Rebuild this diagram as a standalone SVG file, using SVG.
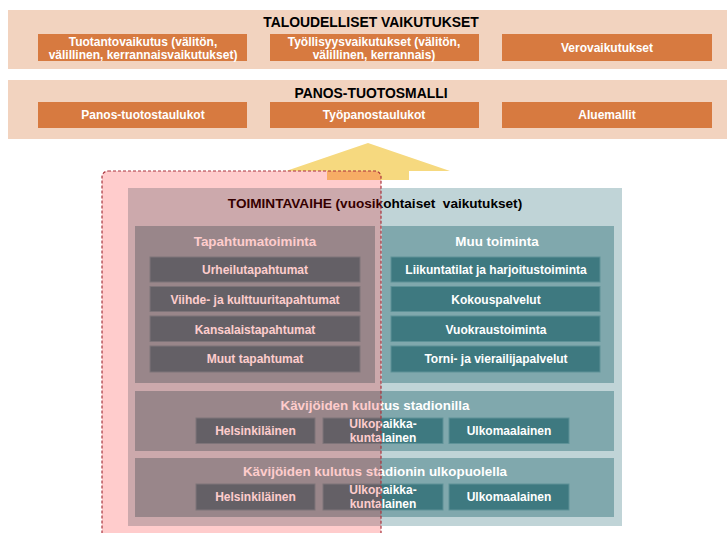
<svg xmlns="http://www.w3.org/2000/svg" width="727" height="533" viewBox="0 0 727 533">
<style>
text{font-family:"Liberation Sans",Arial,sans-serif;font-weight:bold;text-anchor:middle}
.band{fill:#F2D3BF}
.ob{fill:#D77A40}
.ot{fill:#fff;font-size:12px}
.title{fill:#000;font-size:13.9px}
.title2{fill:#000;font-size:13.6px}
.outer{fill:#C0D4D7}
.sec{fill:#80A8AD}
.ib{fill:#3E7980;stroke:#5E9298;stroke-width:1}
.it{fill:#fff;font-size:12px}
.st{fill:#fff;font-size:13.4px}
</style>
<rect width="727" height="533" fill="#fff"/>

<g id="taloudelliset">
<rect class="band" x="8" y="10" width="719" height="59"/>
<text class="title" x="371" y="27">TALOUDELLISET VAIKUTUKSET</text>
<g id="tuotantovaikutus"><rect class="ob" x="38" y="34" width="209" height="27"/>
<text class="ot" x="143" y="45.5">Tuotantovaikutus (välitön,</text>
<text class="ot" x="143" y="58.5">välillinen, kerrannaisvaikutukset)</text></g>
<g id="tyollisyys"><rect class="ob" x="270" y="34" width="209" height="27"/>
<text class="ot" x="374" y="45.5">Työllisyysvaikutukset (välitön,</text>
<text class="ot" x="374" y="58.5">välillinen, kerrannais)</text></g>
<g id="vero"><rect class="ob" x="502" y="34" width="210" height="27"/>
<text class="ot" x="607" y="52">Verovaikutukset</text></g>
</g>

<g id="panostuotos">
<rect class="band" x="8" y="80" width="719" height="59"/>
<text class="title" x="371" y="98">PANOS-TUOTOSMALLI</text>
<g id="panostaulukot"><rect class="ob" x="38" y="102" width="209" height="26"/>
<text class="ot" x="143" y="119">Panos-tuotostaulukot</text></g>
<g id="tyopanos"><rect class="ob" x="270" y="102" width="209" height="26"/>
<text class="ot" x="374" y="119">Työpanostaulukot</text></g>
<g id="aluemallit"><rect class="ob" x="502" y="102" width="210" height="26"/>
<text class="ot" x="607" y="119">Aluemallit</text></g>
</g>

<g id="connectors">
<polygon points="368,143 450,171 409,171 409,180 327,180 327,171 286,171" fill="#F6D97F"/>
</g>

<g id="toimintavaihe">
<rect class="outer" x="128" y="188" width="494" height="338"/>
<text class="title2" x="375" y="208" style="white-space:pre">TOIMINTAVAIHE (vuosikohtaiset  vaikutukset)</text>

<g id="tapahtumatoiminta">
<rect class="sec" x="135" y="226" width="240" height="157"/>
<text class="st" x="255" y="245.5">Tapahtumatoiminta</text>
<g id="urheilu"><rect class="ib" x="150" y="257" width="210" height="25"/><text class="it" x="255" y="274">Urheilutapahtumat</text></g>
<g id="viihde"><rect class="ib" x="150" y="286.5" width="210" height="25"/><text class="it" x="255" y="303.5">Viihde- ja kulttuuritapahtumat</text></g>
<g id="kansalais"><rect class="ib" x="150" y="316" width="210" height="25.5"/><text class="it" x="255" y="333.5">Kansalaistapahtumat</text></g>
<g id="muut"><rect class="ib" x="150" y="346" width="210" height="26"/><text class="it" x="255" y="363">Muut tapahtumat</text></g>
</g>

<g id="muutoiminta">
<rect class="sec" x="382" y="226" width="232" height="157"/>
<text class="st" x="497" y="245.5">Muu toiminta</text>
<g id="liikunta"><rect class="ib" x="391" y="257" width="209" height="25"/><text class="it" x="496" y="274">Liikuntatilat ja harjoitustoiminta</text></g>
<g id="kokous"><rect class="ib" x="391" y="286.5" width="209" height="25"/><text class="it" x="496" y="303.5">Kokouspalvelut</text></g>
<g id="vuokraus"><rect class="ib" x="391" y="316" width="209" height="25.5"/><text class="it" x="496" y="333.5">Vuokraustoiminta</text></g>
<g id="torni"><rect class="ib" x="391" y="346" width="209" height="26"/><text class="it" x="496" y="363">Torni- ja vierailijapalvelut</text></g>
</g>

<g id="kulutus-stadionilla">
<rect class="sec" x="135" y="391" width="479" height="60"/>
<text class="st" x="375" y="409.5">Kävijöiden kulutus stadionilla</text>
<g id="hki1"><rect class="ib" x="196" y="418" width="119" height="25.5"/><text class="it" x="255.5" y="435">Helsinkiläinen</text></g>
<g id="ulkopaikka1"><rect class="ib" x="323" y="418" width="120" height="25.5"/><text class="it" x="383" y="427.5">Ulkopaikka-</text><text class="it" x="383" y="442">kuntalainen</text></g>
<g id="ulkomaa1"><rect class="ib" x="449" y="418" width="120" height="25.5"/><text class="it" x="509" y="435">Ulkomaalainen</text></g>
</g>

<g id="kulutus-ulkopuolella">
<rect class="sec" x="135" y="458" width="479" height="59"/>
<text class="st" x="375" y="476">Kävijöiden kulutus stadionin ulkopuolella</text>
<g id="hki2"><rect class="ib" x="196" y="484" width="119" height="26"/><text class="it" x="255.5" y="501">Helsinkiläinen</text></g>
<g id="ulkopaikka2"><rect class="ib" x="323" y="484" width="120" height="26"/><text class="it" x="383" y="493.5">Ulkopaikka-</text><text class="it" x="383" y="508">kuntalainen</text></g>
<g id="ulkomaa2"><rect class="ib" x="449" y="484" width="120" height="26"/><text class="it" x="509" y="501">Ulkomaalainen</text></g>
</g>
</g>

<g id="korostus">
<rect x="102" y="171" width="279" height="372" rx="6" ry="6" fill="#FF0000" fill-opacity="0.2" stroke="#A8323C" stroke-width="1.2" stroke-dasharray="3,2"/>
</g>
</svg>
